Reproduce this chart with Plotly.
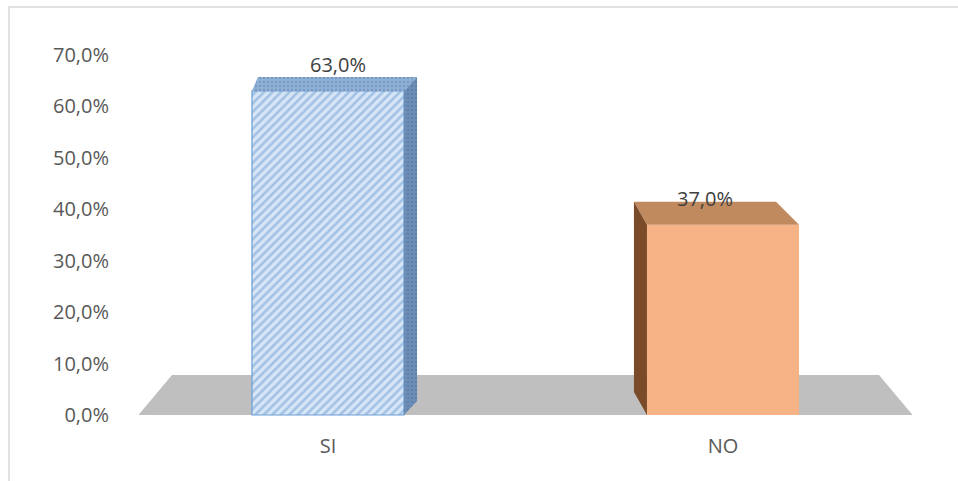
import plotly.graph_objects as go

# ---- data ---------------------------------------------------------------
categories = ["SI", "NO"]
values = [0.63, 0.37]
y_ticks = [0.0, 0.1, 0.2, 0.3, 0.4, 0.5, 0.6, 0.7]

# ---- layout geometry ----------------------------------------------------
W, H = 958, 481
M_L, M_R, M_T, M_B = 110, 0, 0, 56
PLOT_W = W - M_L - M_R
PLOT_H = H - M_T - M_B

# axis scales (pixels per unit)
PX_PER_CAT = 395.0
PX_PER_VAL = 514.3
X0_PX = 328 - M_L          # where category 0 sits inside the plot area
ZERO_PX = 415 - M_T        # where value 0 sits inside the plot area

x_range = [-X0_PX / PX_PER_CAT, (PLOT_W - X0_PX) / PX_PER_CAT]
y_range = [-(PLOT_H - ZERO_PX) / PX_PER_VAL, ZERO_PX / PX_PER_VAL]

BAR_W = 0.385

# depth offsets of the 3-D boxes in pixels: (left dx, right dx, dy)
DEPTH = [(6, 13, -14), (-13, -23, -23)]

front_fill = ["#d6e6f6", "#f6b386"]
top_fill = ["#8fb0d7", "#c08a5e"]
side_fill = ["#6d8eb7", "#7a4b29"]
hatch_fg = ["#6d9bd0", None]

FONT = "Open Sans"


def ux(px):
    return px / PX_PER_CAT


def uy(px):
    return -px / PX_PER_VAL


fig = go.Figure()

# front faces of the bars
for i, (cat, v) in enumerate(zip(categories, values)):
    marker = dict(color=front_fill[i], line=dict(width=0))
    if hatch_fg[i]:
        marker = dict(
            color=front_fill[i],
            line=dict(color="#6b9dd3", width=1.2),
            pattern=dict(shape="/", bgcolor=front_fill[i], fgcolor=hatch_fg[i],
                         size=6, solidity=0.42, fillmode="overlay"),
        )
    fig.add_trace(go.Bar(x=[i], y=[v], width=BAR_W, marker=marker,
                         hoverinfo="skip", showlegend=False))

# top and side faces of the boxes
for i, v in enumerate(values):
    dxl, dxr, dy = DEPTH[i]
    xl, xr = i - BAR_W / 2, i + BAR_W / 2
    bxl, bxr, by = xl + ux(dxl), xr + ux(dxr), uy(dy)
    # top face
    fig.add_trace(go.Scatter(
        x=[xl, xr, bxr, bxl, xl], y=[v, v, v + by, v + by, v],
        fill="toself", fillcolor=top_fill[i], mode="lines",
        line=dict(width=0), hoverinfo="skip", showlegend=False,
        fillpattern=dict(shape=".", fgcolor="#5d7fa8", bgcolor=top_fill[i],
                         size=4, solidity=0.25) if i == 0 else None,
    ))
    # visible side face (right for the first box, left for the second)
    if dxr > 0:
        sx, bsx = xr, bxr
    else:
        sx, bsx = xl, bxl
    fig.add_trace(go.Scatter(
        x=[sx, sx, bsx, bsx, sx], y=[0, v, v + by, by, 0],
        fill="toself", fillcolor=side_fill[i], mode="lines",
        line=dict(width=0), hoverinfo="skip", showlegend=False,
        fillpattern=dict(shape=".", fgcolor="#4f6f98", bgcolor=side_fill[i],
                         size=4, solidity=0.3) if i == 0 else None,
    ))

# value labels above each box
for i, v in enumerate(values):
    dxl, dxr, dy = DEPTH[i]
    cx = i + ux((dxl + dxr) / 2)
    fig.add_annotation(
        x=cx, y=v, yshift=26, showarrow=False,
        text=f"{v * 100:.1f}%".replace(".", ","),
        font=dict(family=FONT, size=20, color="#404040"),
    )

# grey floor
FLOOR_X = (-0.48, 1.48)
FLOOR_INSET = 0.085
FLOOR_DEPTH = 0.078
fx0, fx1 = FLOOR_X
floor_path = (f"M {fx0},0 L {fx1},0 L {fx1 - FLOOR_INSET},{FLOOR_DEPTH} "
              f"L {fx0 + FLOOR_INSET},{FLOOR_DEPTH} Z")
fig.add_shape(type="path", path=floor_path, xref="x", yref="y",
              fillcolor="#bfbfbf", line=dict(width=0), layer="below")

# chart frame
fig.add_shape(type="rect", xref="paper", yref="paper",
              x0=(9 - M_L) / PLOT_W, x1=(W + 20 - M_L) / PLOT_W,
              y0=(PLOT_H + M_T - (H + 20)) / PLOT_H, y1=(PLOT_H + M_T - 7) / PLOT_H,
              line=dict(color="#d9d9d9", width=1.5), layer="below")

fig.update_layout(
    width=W, height=H,
    margin=dict(l=M_L, r=M_R, t=M_T, b=M_B),
    paper_bgcolor="white", plot_bgcolor="rgba(0,0,0,0)",
    separators=",.",
    barmode="overlay",
    font=dict(family=FONT, size=20, color="#595959"),
    xaxis=dict(range=x_range, tickvals=list(range(len(categories))),
               ticktext=categories, showgrid=False, zeroline=False,
               showline=False, ticks="", ticklabelstandoff=7, fixedrange=True),
    yaxis=dict(range=y_range, tickvals=y_ticks, tickformat=".1%",
               showgrid=False, zeroline=False, showline=False, ticks="",
               fixedrange=True),
)

fig.write_html("out.html")
